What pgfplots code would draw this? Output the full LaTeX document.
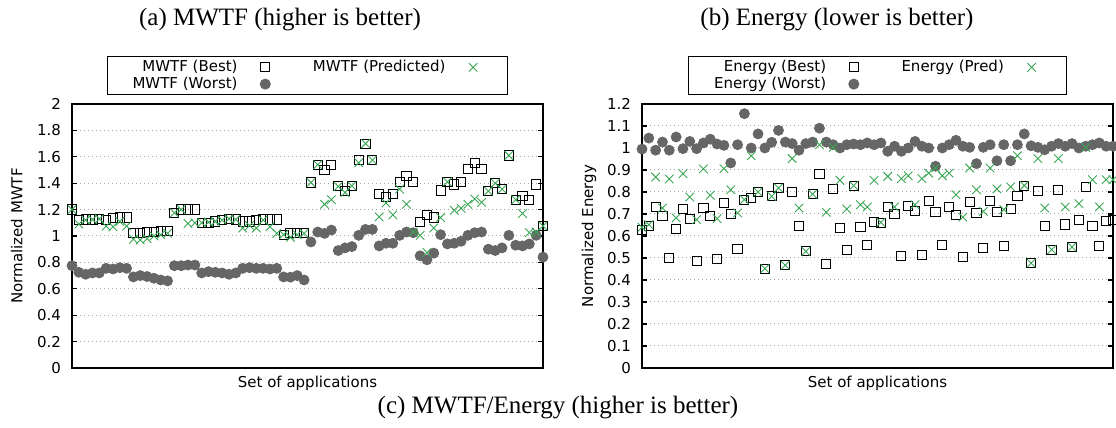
\documentclass[border=0pt]{standalone}
\usepackage{fontspec}
\setmainfont{DejaVu Sans}
\newfontfamily\capfont{Liberation Serif}
\usepackage{pgfplots}
\usepackage{pgfplotstable}
\pgfplotsset{compat=1.18}

\definecolor{wgray}{HTML}{666666}
\definecolor{pgreen}{HTML}{3AA655}

% x = application index, best / worst / predicted normalized values
\pgfplotstableread{
x best worst pred
0 1.20 0.775 1.20
1 1.12 0.725 1.09
2 1.125 0.71 1.12
3 1.125 0.72 1.125
4 1.13 0.72 1.13
5 1.12 0.755 1.075
6 1.135 0.75 1.07
7 1.14 0.76 1.11
8 1.14 0.755 1.075
9 1.025 0.69 0.975
10 1.025 0.70 0.97
11 1.03 0.693 0.98
12 1.03 0.68 1.00
13 1.04 0.667 1.01
14 1.04 0.66 1.02
15 1.175 0.775 1.175
16 1.20 0.775 1.20
17 1.20 0.78 1.095
18 1.20 0.78 1.10
19 1.10 0.72 1.10
20 1.10 0.73 1.105
21 1.11 0.725 1.11
22 1.12 0.72 1.12
23 1.13 0.71 1.13
24 1.125 0.72 1.125
25 1.11 0.755 1.06
26 1.11 0.76 1.08
27 1.12 0.755 1.06
28 1.125 0.755 1.12
29 1.125 0.75 1.07
30 1.125 0.755 1.02
31 1.01 0.69 1.01
32 1.02 0.688 0.99
33 1.02 0.70 1.01
34 1.02 0.667 1.02
35 1.405 0.955 1.405
36 1.54 1.03 1.54
37 1.50 1.02 1.24
38 1.54 1.045 1.275
39 1.38 0.89 1.375
40 1.34 0.91 1.33
41 1.38 0.92 1.38
42 1.575 1.005 1.555
43 1.70 1.05 1.70
44 1.575 1.05 1.575
45 1.32 0.925 1.145
46 1.295 0.945 1.25
47 1.32 0.945 1.16
48 1.41 1.005 1.355
49 1.455 1.03 1.24
50 1.41 1.025 1.03
51 1.105 0.85 1.005
52 1.16 0.82 0.875
53 1.14 0.87 1.06
54 1.345 1.01 1.14
55 1.41 0.94 1.41
56 1.39 0.945 1.195
57 1.41 0.96 1.21
58 1.51 1.005 1.24
59 1.55 1.025 1.28
60 1.505 1.03 1.255
61 1.34 0.90 1.34
62 1.40 0.89 1.40
63 1.355 0.91 1.355
64 1.61 1.005 1.61
65 1.275 0.93 1.275
66 1.30 0.925 1.17
67 1.275 0.94 1.025
68 1.39 1.005 1.03
69 1.075 0.84 1.075
}\mwtf

\pgfplotstableread{
x best worst pred
0 0.626 0.995 0.64
1 0.647 1.045 0.652
2 0.732 0.99 0.868
3 0.692 1.027 0.727
4 0.50 0.99 0.859
5 0.633 1.05 0.682
6 0.723 0.997 0.883
7 0.677 1.03 0.777
8 0.485 0.997 0.674
9 0.727 1.023 0.905
10 0.69 1.04 0.785
11 0.495 1.018 0.679
12 0.75 1.012 0.906
13 0.70 0.932 0.81
14 0.54 1.015 0.705
15 0.765 1.156 0.765
16 0.773 1.0 0.965
17 0.80 1.064 0.80
18 0.45 1.0 0.452
19 0.78 1.026 0.78
20 0.818 1.08 0.818
21 0.467 1.027 0.467
22 0.80 1.02 0.952
23 0.644 0.99 0.727
24 0.53 1.02 0.53
25 0.79 1.027 0.79
26 0.88 1.09 1.015
27 0.474 1.027 0.708
28 0.815 1.015 1.003
29 0.636 1.0 0.853
30 0.538 1.015 0.723
31 0.829 1.018 0.829
32 0.641 1.015 0.742
33 0.558 1.023 0.732
34 0.664 1.015 0.853
35 0.66 1.023 0.662
36 0.732 0.985 0.871
37 0.70 1.008 0.732
38 0.508 0.985 0.861
39 0.738 1.0 0.874
40 0.712 1.03 0.742
41 0.515 1.008 0.861
42 0.758 1.0 0.886
43 0.708 0.917 0.909
44 0.558 1.0 0.874
45 0.732 1.015 0.886
46 0.697 1.035 0.788
47 0.505 1.008 0.686
48 0.753 1.003 0.909
49 0.705 0.929 0.81
50 0.545 1.003 0.712
51 0.758 1.015 0.909
52 0.708 0.942 0.814
53 0.556 1.015 0.72
54 0.723 0.942 0.823
55 0.78 1.015 0.965
56 0.829 1.064 0.829
57 0.477 1.01 0.477
58 0.803 1.003 0.952
59 0.647 0.992 0.727
60 0.538 1.008 0.538
61 0.81 1.02 0.952
62 0.652 1.008 0.732
63 0.55 1.02 0.55
64 0.674 1.0 0.747
65 0.823 1.008 1.003
66 0.647 1.015 0.856
67 0.556 1.023 0.732
68 0.667 1.008 0.856
69 0.671 1.008 0.856
}\energy

\pgfplotsset{
  gpaxis/.style={
    scale only axis, width=235.5bp, height=132bp,
    anchor=south west,
    xmin=0, xmax=69, ymin=0,
    xtick=\empty,
    yticklabel pos=left,
    tick align=inside,
    major tick length=2.5bp,
    every tick/.style={black, line width=0.6bp},
    axis line style={line width=0.6bp},
    ymajorgrids,
    grid style={gray!70, line width=0.5bp, dash pattern=on 0.5bp off 1.5bp},
    /pgf/number format/assume math mode=true,
    tick label style={font=\fontsize{7.5bp}{9bp}\selectfont},
    yticklabel style={xshift=-2bp},
    label style={font=\fontsize{7.5bp}{9bp}\selectfont},
    xlabel style={at={(axis description cs:0.5,0)}, anchor=center, yshift=-7.5bp},
    legend columns=2,
    transpose legend,
    legend plot pos=right,
    legend cell align=right,
    legend style={at={(0.5,1)}, anchor=south, yshift=4.5bp,
      draw=black, line width=0.5bp,
      inner xsep=12bp, inner ysep=1bp,
      font=\fontsize{7.5bp}{9bp}\selectfont,
      nodes={inner sep=0.6bp},
      /tikz/every even column/.append style={column sep=18bp}},
    legend image code/.code={\path (0bp,0bp) (18bp,0bp); \draw[##1] plot coordinates {(13bp,0bp)};},
  },
  bestm/.style={only marks, mark=square, mark size=2.3bp, black, mark options={line width=0.5bp}},
  worstm/.style={only marks, mark=*, mark size=2.5bp, wgray, mark options={fill=wgray, draw=wgray}},
  predm/.style={only marks, mark=x, mark size=3bp, pgreen, mark options={line width=0.45bp}},
}

\begin{document}
\begin{tikzpicture}
\useasboundingbox (0,0) rectangle (558bp,214bp);

\begin{axis}[gpaxis, at={(36bp,30bp)},
  ymax=2, ytick={0,0.2,0.4,0.6,0.8,1,1.2,1.4,1.6,1.8,2},
  xlabel={Set of applications}, ylabel={Normalized MWTF},
  ylabel style={at={(axis description cs:-0.117,0.5)}, anchor=center},
]
\addplot[bestm] table[x=x, y=best] {\mwtf};
\addlegendentry{MWTF (Best)}
\addplot[worstm] table[x=x, y=worst] {\mwtf};
\addlegendentry{MWTF (Worst)}
\addplot[predm] table[x=x, y=pred] {\mwtf};
\addlegendentry{MWTF (Predicted)}
\end{axis}

\begin{axis}[gpaxis, at={(321bp,30bp)},
  ymax=1.2, ytick={0,0.1,0.2,0.3,0.4,0.5,0.6,0.7,0.8,0.9,1,1.1,1.2},
  xlabel={Set of applications}, ylabel={Normalized Energy},
  ylabel style={at={(axis description cs:-0.1125,0.5)}, anchor=center},
]
\addplot[bestm] table[x=x, y=best] {\energy};
\addlegendentry{Energy (Best)}
\addplot[worstm] table[x=x, y=worst] {\energy};
\addlegendentry{Energy (Worst)}
\addplot[predm] table[x=x, y=pred] {\energy};
\addlegendentry{Energy (Pred)}
\end{axis}

\node[font=\capfont\fontsize{12.5bp}{15bp}\selectfont] at (140bp,204bp) {(a) MWTF (higher is better)};
\node[font=\capfont\fontsize{12.5bp}{15bp}\selectfont] at (418.5bp,204bp) {(b) Energy (lower is better)};
\node[font=\capfont\fontsize{12.5bp}{15bp}\selectfont] at (279bp,10bp) {(c) MWTF/Energy (higher is better)};
\end{tikzpicture}
\end{document}
